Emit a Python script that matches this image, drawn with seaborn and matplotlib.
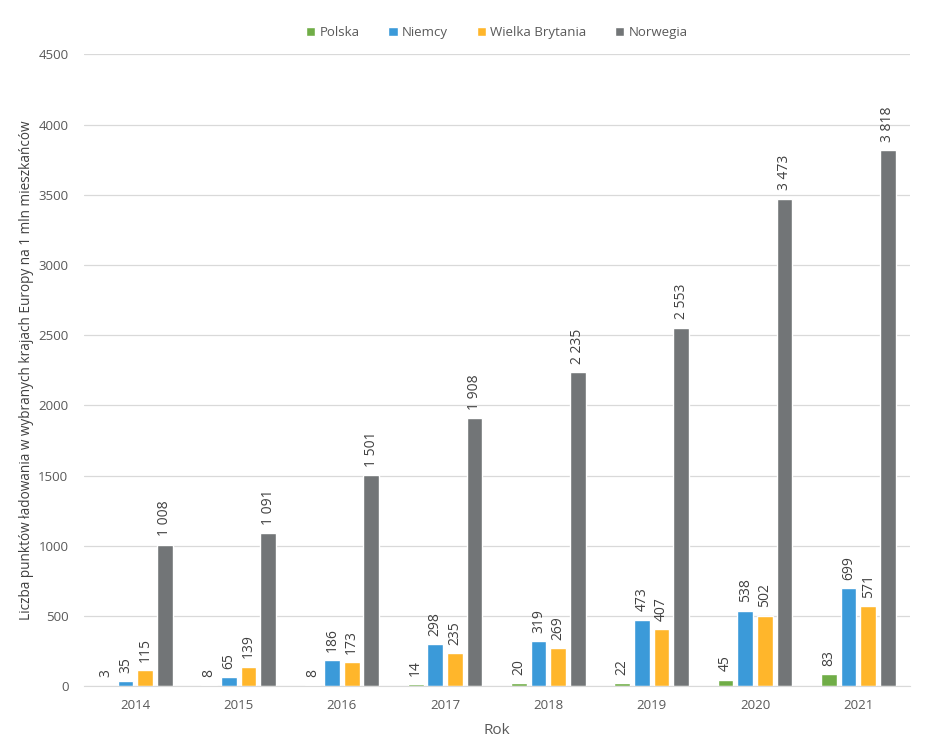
import pandas as pd
import seaborn as sns
import matplotlib.pyplot as plt

years = ['2014', '2015', '2016', '2017', '2018', '2019', '2020', '2021']
countries = ['Polska', 'Niemcy', 'Wielka Brytania', 'Norwegia']
polska = [3, 8, 8, 14, 20, 22, 45, 83]
niemcy = [35, 65, 186, 298, 319, 473, 538, 699]
wielka_brytania = [115, 139, 173, 235, 269, 407, 502, 571]
norwegia = [1008, 1091, 1501, 1908, 2235, 2553, 3473, 3818]
colors = ['#70AD47', '#3B9AD9', '#FFB62B', '#727577']

df = pd.DataFrame({
    'rok': years * 4,
    'kraj': [c for c in countries for _ in years],
    'wartosc': polska + niemcy + wielka_brytania + norwegia,
})

sns.set_style('white')
plt.rcParams['font.family'] = ['Open Sans', 'DejaVu Sans']
text_col = '#595959'

fig = plt.figure(figsize=(9.4, 7.45), dpi=100)
ax = fig.add_axes([0.089, 0.079, 0.879, 0.848])

sns.barplot(data=df, x='rok', y='wartosc', hue='kraj', hue_order=countries,
            palette=colors, width=0.76, gap=0.2, saturation=1, ax=ax)

for cont in ax.containers:
    labels = [f'{int(v):,}'.replace(',', ' ') for v in cont.datavalues]
    ax.bar_label(cont, labels=labels, rotation=90, padding=6,
                 fontsize=10, color='#404040')

ax.set_ylim(0, 4500)
ax.set_yticks(range(0, 4501, 500))
ax.grid(axis='y', color='#D9D9D9', linewidth=0.9)
ax.set_axisbelow(True)
for s in ['top', 'right', 'left']:
    ax.spines[s].set_visible(False)
ax.spines['bottom'].set_color('#D9D9D9')
ax.tick_params(axis='both', length=0, colors=text_col, labelsize=9.5)
ax.tick_params(axis='x', pad=9)
ax.tick_params(axis='y', pad=11)

ax.set_xlabel('Rok', fontsize=11, color=text_col, labelpad=8)
ax.set_ylabel('Liczba punktów ładowania w wybranych krajach Europy na 1 mln mieszkańców',
              fontsize=9.8, color='#404040', labelpad=3)

ax.legend(loc='lower center', bbox_to_anchor=(0.5, 1.005), ncol=4, frameon=False,
          fontsize=9.5, handlelength=0.7, handleheight=0.7, handletextpad=0.3,
          columnspacing=2.2, labelcolor=text_col)

plt.savefig('out.png', dpi=100)
